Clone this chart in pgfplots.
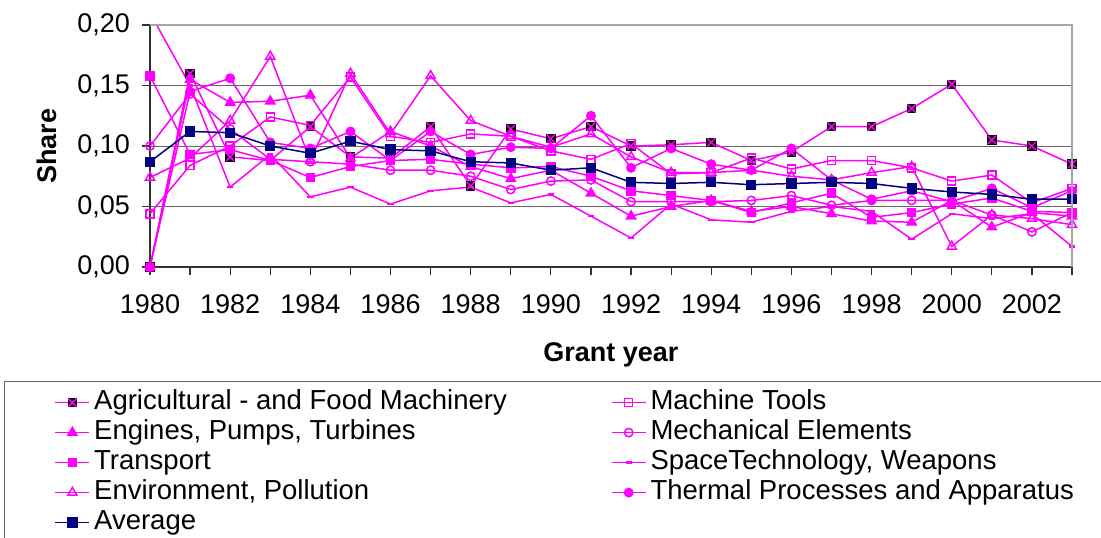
\documentclass[border=0pt]{standalone}
\usepackage{pgfplots}
\pgfplotsset{compat=1.18}
\usepackage{pgfplotstable}
\usepackage{fontspec}
\setmainfont{Liberation Sans}
\usetikzlibrary{plotmarks}
\definecolor{mag}{RGB}{255,0,255}
\definecolor{nav}{RGB}{0,0,128}

\pgfdeclareplotmark{sqx}{%
  \pgfpathrectangle{\pgfpoint{-\pgfplotmarksize}{-\pgfplotmarksize}}{\pgfpoint{2\pgfplotmarksize}{2\pgfplotmarksize}}%
  \pgfsetfillcolor{black}\pgfsetstrokecolor{black}\pgfusepath{fill,stroke}%
  \pgfsetstrokecolor{mag}%
  \pgfpathmoveto{\pgfpoint{-\pgfplotmarksize}{-\pgfplotmarksize}}\pgfpathlineto{\pgfpoint{\pgfplotmarksize}{\pgfplotmarksize}}%
  \pgfpathmoveto{\pgfpoint{-\pgfplotmarksize}{\pgfplotmarksize}}\pgfpathlineto{\pgfpoint{\pgfplotmarksize}{-\pgfplotmarksize}}%
  \pgfusepathqstroke}
\pgfdeclareplotmark{dash}{%
  \pgfpathrectangle{\pgfpoint{-1.6pt}{-0.6pt}}{\pgfpoint{3.2pt}{1.2pt}}\pgfusepathqfill}

\pgfplotstableread{
year agri tools engines mech transport space env thermal avg
1980 0.000 0.044 0.000 0.100 0.158 0.210 0.074 0.000 0.087
1981 0.160 0.084 0.155 0.143 0.093 0.150 0.090 0.145 0.112
1982 0.091 0.100 0.136 0.114 0.097 0.066 0.121 0.156 0.111
1983 0.088 0.124 0.137 0.089 0.088 0.093 0.174 0.103 0.100
1984 0.116 0.117 0.142 0.087 0.074 0.058 0.088 0.098 0.094
1985 0.091 0.157 0.090 0.085 0.083 0.066 0.160 0.112 0.104
1986 0.090 0.108 0.112 0.080 0.088 0.052 0.110 0.088 0.097
1987 0.116 0.103 0.100 0.080 0.089 0.063 0.158 0.112 0.096
1988 0.067 0.110 0.083 0.075 0.085 0.066 0.121 0.093 0.087
1989 0.114 0.108 0.073 0.064 0.082 0.053 0.108 0.099 0.086
1990 0.106 0.096 0.080 0.071 0.083 0.060 0.099 0.098 0.080
1991 0.116 0.089 0.061 0.072 0.075 0.042 0.110 0.125 0.082
1992 0.100 0.102 0.042 0.054 0.063 0.024 0.091 0.082 0.070
1993 0.101 0.077 0.050 0.054 0.059 0.052 0.078 0.098 0.069
1994 0.103 0.078 0.055 0.054 0.055 0.039 0.078 0.085 0.070
1995 0.088 0.090 0.046 0.055 0.045 0.037 0.080 0.080 0.068
1996 0.095 0.081 0.050 0.059 0.053 0.046 0.075 0.098 0.069
1997 0.116 0.088 0.044 0.051 0.061 0.050 0.072 0.072 0.070
1998 0.116 0.088 0.038 0.055 0.041 0.046 0.078 0.056 0.069
1999 0.131 0.082 0.037 0.055 0.045 0.023 0.083 0.063 0.065
2000 0.151 0.071 0.055 0.055 0.052 0.044 0.017 0.054 0.062
2001 0.105 0.076 0.033 0.043 0.057 0.040 0.043 0.065 0.060
2002 0.100 0.053 0.045 0.029 0.046 0.044 0.040 0.049 0.056
2003 0.085 0.065 0.042 0.045 0.045 0.017 0.035 0.063 0.056
}\datatable

\begin{document}
\begin{tikzpicture}[font=\fontsize{13.5pt}{16pt}\selectfont]
\begin{axis}[
  name=ax,
  scale only axis, width=461pt, height=121pt,
  at={(75pt,135pt)}, anchor=south west,
  xmin=1980, xmax=2003, ymin=0, ymax=0.2,
  xtick={1980,1981,...,2003},
  xticklabels={1980,,1982,,1984,,1986,,1988,,1990,,1992,,1994,,1996,,1998,,2000,,2002,},
  xticklabel style={yshift=-6.5pt},
  ytick={0,0.05,0.1,0.15,0.2},
  yticklabel style={xshift=-2.5pt, /pgf/number format/.cd, fixed, fixed zerofill, precision=2, use comma},
  /pgf/number format/assume math mode=true,
  tick align=outside, major tick length=4pt,
  tick style={black!80, line width=0.6pt},
  axis lines*=left, axis line style={black!80, line width=0.6pt, -},
  ymajorgrids, grid style={black!60, line width=0.5pt},
  xlabel={\textbf{Grant year}}, ylabel={\textbf{Share}},
  x label style={at={(axis description cs:0.5,0)}, yshift=-44pt, anchor=center},
  y label style={at={(axis description cs:-0.1117,0.5)}, anchor=center},
  every axis plot/.append style={line width=0.75pt},
  legend columns=2,
  legend cell align=left,
  legend style={at={(axis description cs:-0.1584,-0.4711)}, anchor=north west,
    font=\fontsize{13.75pt}{16pt}\selectfont,
    draw=black!60, line width=0.6pt, inner xsep=25pt, inner ysep=3pt,
    row sep=0pt,
    nodes={inner xsep=2pt, inner ysep=1.1pt, text height=10pt, text depth=2.8pt},
    /tikz/every even column/.append style={column sep=50pt}},
]
\addplot[mag, mark=sqx, mark size=2pt] table[x=year,y=agri] {\datatable};
\addlegendentry{Agricultural - and Food Machinery}
\addplot[mag, mark=square, mark size=2pt, mark options={fill=white}] table[x=year,y=tools] {\datatable};
\addlegendentry{Machine Tools}
\addplot[mag, mark=triangle*, mark size=2.6pt] table[x=year,y=engines] {\datatable};
\addlegendentry{Engines, Pumps, Turbines}
\addplot[mag, mark=o, mark size=2.1pt, mark options={fill=white}] table[x=year,y=mech] {\datatable};
\addlegendentry{Mechanical Elements}
\addplot[mag, mark=square*, mark size=2pt] table[x=year,y=transport] {\datatable};
\addlegendentry{Transport}
\addplot[mag, mark=dash] table[x=year,y=space] {\datatable};
\addlegendentry{SpaceTechnology, Weapons}
\addplot[mag, mark=triangle, mark size=2.6pt, mark options={fill=white}] table[x=year,y=env] {\datatable};
\addlegendentry{Environment, Pollution}
\addplot[mag, mark=*, mark size=2.1pt] table[x=year,y=thermal] {\datatable};
\addlegendentry{Thermal Processes and Apparatus}
\addplot[nav, mark=square*, mark size=2.2pt] table[x=year,y=avg] {\datatable};
\addlegendentry{Average}
\end{axis}
\draw[black!35, line width=0.7pt] (ax.north west) -- (ax.north east) -- (ax.south east);
\pgfresetboundingbox
\useasboundingbox (0,0) rectangle (550.5pt,268.5pt);
\end{tikzpicture}
\end{document}
